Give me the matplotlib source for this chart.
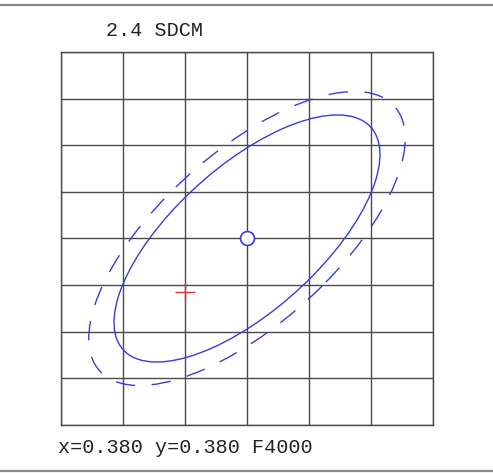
import matplotlib
matplotlib.use("Agg")
import matplotlib.pyplot as plt
from matplotlib.patches import Ellipse
from matplotlib.lines import Line2D
import numpy as np

# chromaticity window and grid step
x_lim = [0.365, 0.395]
y_lim = [0.360, 0.400]
step = 0.005

# target (F4000) and the measured point
target_x, target_y = 0.380, 0.380
test_x, test_y = 0.375, 0.3743

# ellipses: semi-axes (a, b) and tilt in degrees
inner_a, inner_b = 0.01570, 0.00664
outer_a, outer_b = 0.01868, 0.00790
ell_angle = 53.7

title_txt = "2.4 SDCM"
info_txt = "x=0.380 y=0.380 F4000"

blue = '#3b3bd6'
mono = 'Liberation Mono'

fig = plt.figure(figsize=(4.93, 4.73), dpi=100)
ax = fig.add_axes([0.1237, 0.1015, 0.7546, 0.7886])

ax.set_xlim(x_lim)
ax.set_ylim(y_lim)
ax.set_xticks(np.arange(x_lim[0], x_lim[1] + step/2, step))
ax.set_yticks(np.arange(y_lim[0], y_lim[1] + step/2, step))
ax.tick_params(length=0, labelbottom=False, labelleft=False)
ax.grid(True, color='#4a4a4a', linewidth=1.0)
for s in ax.spines.values():
    s.set_color('#4a4a4a')
    s.set_linewidth(1.0)

e1 = Ellipse((target_x, target_y), 2*inner_a, 2*inner_b, angle=ell_angle,
             fill=False, edgecolor=blue, linewidth=1.0, zorder=3)
e2 = Ellipse((target_x, target_y), 2*outer_a, 2*outer_b, angle=ell_angle,
             fill=False, edgecolor=blue, linewidth=1.0, linestyle=(0, (14, 12)), zorder=3)
ax.add_patch(e1)
ax.add_patch(e2)

ax.plot([target_x], [target_y], 'o', markersize=10, markerfacecolor='white',
        markeredgecolor=blue, markeredgewidth=1.2, zorder=4)
ax.plot([test_x], [test_y], '+', markersize=14, color='#e03030',
        markeredgewidth=1.0, zorder=4)

fig.text(106/493, 1 - 36/473, title_txt, family=mono, fontsize=14.5, color='#222222')
fig.text(58/493, 1 - 453/473, info_txt, family=mono, fontsize=14.5, color='#222222')

# grey rules at top and bottom
fig.add_artist(Line2D([0, 1], [1 - 5.5/473, 1 - 5.5/473], color='#8a8a8a', linewidth=1.6))
fig.add_artist(Line2D([0, 1], [1 - 470.5/473, 1 - 470.5/473], color='#8a8a8a', linewidth=1.6))

fig.savefig('out.png', dpi=100, facecolor='white')
